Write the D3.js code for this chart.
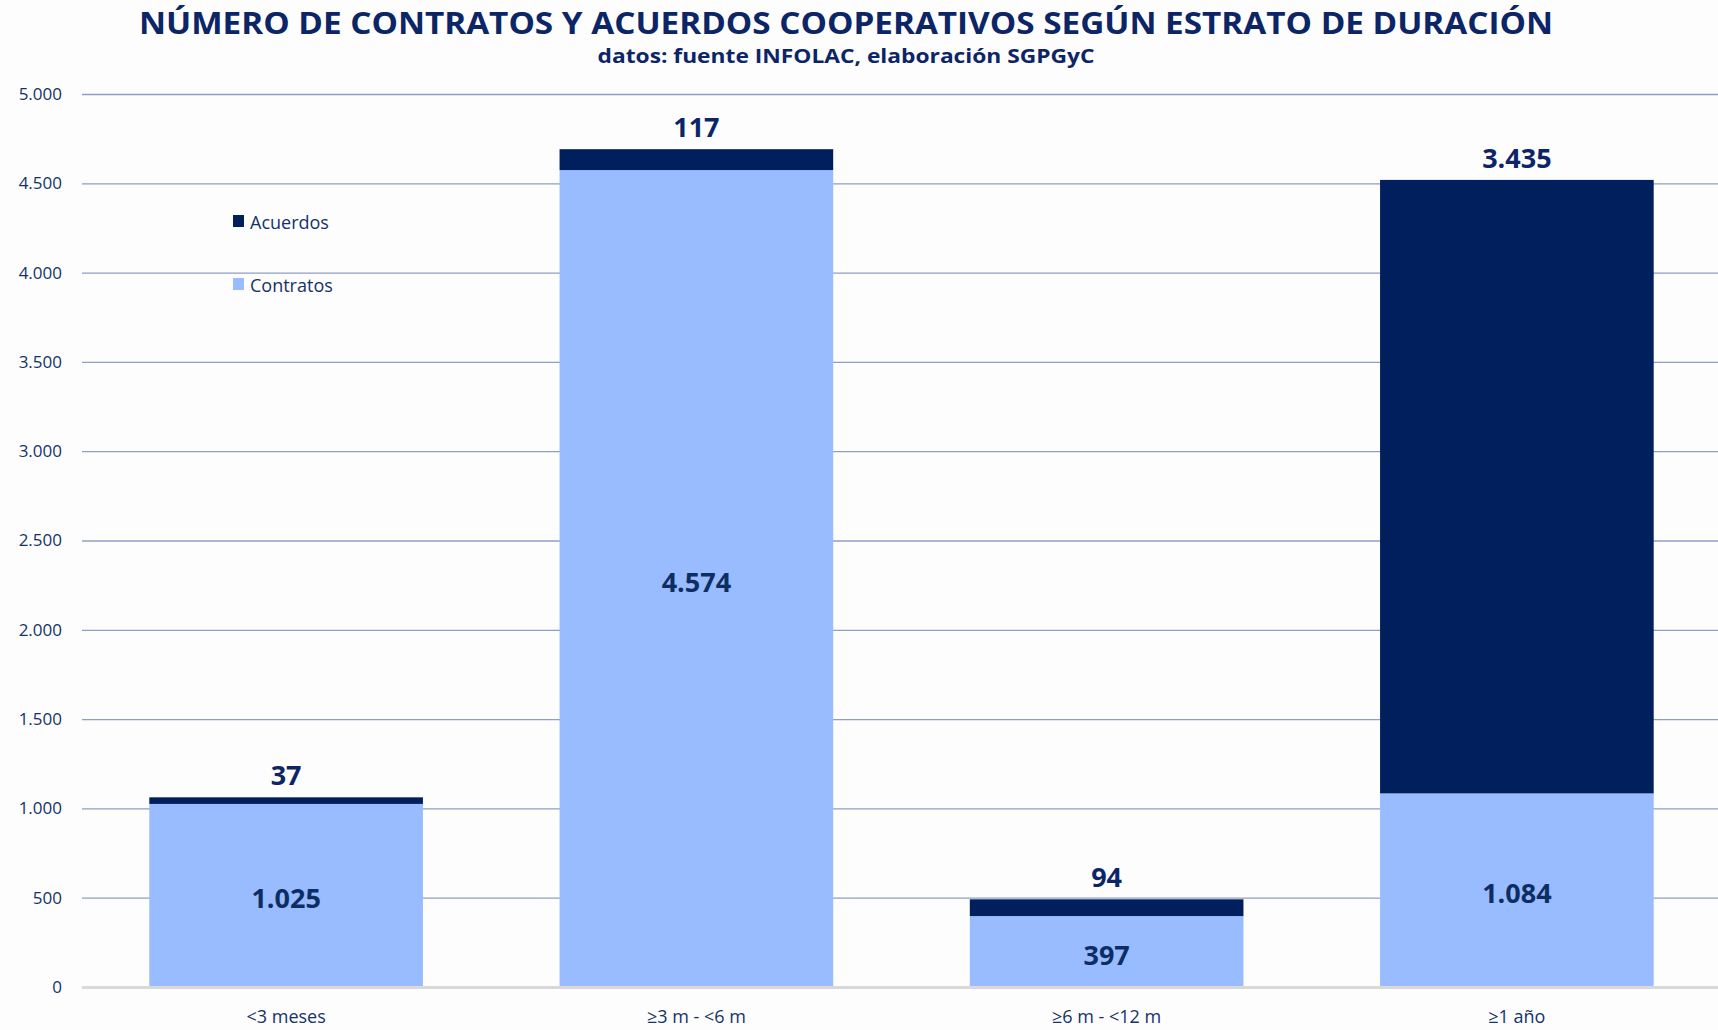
<!DOCTYPE html>
<html>
<head>
<meta charset="utf-8">
<script src="https://cdn.jsdelivr.net/npm/d3@7"></script>
<style>
  html, body { margin: 0; padding: 0; background: #fdfdfd; }
  svg { display: block; font-family: "Open Sans", "Noto Sans", sans-serif; }
</style>
</head>
<body>
<svg id="chart"></svg>
<script>
(() => {
  const width = 1718, height = 1030;

  // datos
  const categories = ["<3 meses", "≥3 m - <6 m", "≥6 m - <12 m", "≥1 año"];
  const contratos = [1025, 4574, 397, 1084];
  const acuerdos = [37, 117, 94, 3435];
  const yTicks = [0, 500, 1000, 1500, 2000, 2500, 3000, 3500, 4000, 4500, 5000];
  const seriesNames = ["Acuerdos", "Contratos"];

  const darkBlue = "#001f5c", lightBlue = "#99bbff";
  const textColor = "#14326a";

  const fmt = v => d3.format(",")(v).replace(/,/g, ".");

  const svg = d3.select("#chart").attr("width", width).attr("height", height);

  svg.append("rect").attr("width", width).attr("height", height).attr("fill", "#fdfdfd");

  const x = d3.scaleBand()
    .domain(categories)
    .range([81, 1722])
    .paddingInner(0.333)
    .paddingOuter(0.1665);

  const y = d3.scaleLinear().domain([0, 5000]).range([987, 94]);

  // títulos
  svg.append("text")
    .attr("x", 846).attr("y", 34)
    .attr("text-anchor", "middle")
    .attr("font-size", 30).attr("font-weight", 700)
    .attr("fill", "#0c2566")
    .attr("textLength", 1414).attr("lengthAdjust", "spacingAndGlyphs")
    .text("NÚMERO DE CONTRATOS Y ACUERDOS COOPERATIVOS SEGÚN ESTRATO DE DURACIÓN");

  svg.append("text")
    .attr("x", 846).attr("y", 63)
    .attr("text-anchor", "middle")
    .attr("font-size", 19).attr("font-weight", 700)
    .attr("fill", "#0c2566")
    .attr("textLength", 497).attr("lengthAdjust", "spacingAndGlyphs")
    .text("datos: fuente INFOLAC, elaboración SGPGyC");

  // rejilla y eje Y
  const yAxis = svg.append("g")
    .attr("transform", "translate(82,0)")
    .call(d3.axisLeft(y).tickValues(yTicks).tickSize(-(width - 82)).tickFormat(fmt).tickPadding(20));
  yAxis.select(".domain").remove();
  yAxis.selectAll(".tick line")
    .attr("stroke", d => d === 0 ? "#d9d9d9" : "#8e9fc6")
    .attr("stroke-width", d => d === 0 ? 3 : 1.3);
  yAxis.selectAll(".tick text")
    .attr("fill", textColor)
    .attr("font-size", 17)
    .attr("font-family", "'Open Sans', sans-serif");

  // barras apiladas
  const bars = svg.append("g");
  categories.forEach((c, i) => {
    const bx = x(c), bw = x.bandwidth();
    bars.append("rect")
      .attr("x", bx).attr("width", bw)
      .attr("y", y(contratos[i]))
      .attr("height", y(0) - y(contratos[i]) - 1)
      .attr("fill", lightBlue);
    bars.append("rect")
      .attr("x", bx).attr("width", bw)
      .attr("y", y(contratos[i] + acuerdos[i]))
      .attr("height", y(contratos[i]) - y(contratos[i] + acuerdos[i]))
      .attr("fill", darkBlue);

    // etiqueta contratos (centro del segmento)
    bars.append("text")
      .attr("x", bx + bw / 2)
      .attr("y", (y(0) + y(contratos[i])) / 2)
      .attr("dy", "0.48em")
      .attr("text-anchor", "middle")
      .attr("font-size", 27).attr("font-weight", 700)
      .attr("fill", "#0d2e63")
      .text(fmt(contratos[i]));

    // etiqueta acuerdos (encima de la barra)
    bars.append("text")
      .attr("x", bx + bw / 2)
      .attr("y", y(contratos[i] + acuerdos[i]) - 12)
      .attr("text-anchor", "middle")
      .attr("font-size", 27).attr("font-weight", 700)
      .attr("fill", "#0c2566")
      .text(fmt(acuerdos[i]));
  });

  // eje X
  svg.append("g").selectAll("text")
    .data(categories)
    .join("text")
    .attr("x", d => x(d) + x.bandwidth() / 2)
    .attr("y", 1023)
    .attr("text-anchor", "middle")
    .attr("font-size", 18)
    .attr("fill", textColor)
    .text(d => d);

  // leyenda
  const legend = svg.append("g");
  seriesNames.forEach((s, i) => {
    const ly = 215 + i * 63;
    legend.append("rect")
      .attr("x", 233).attr("y", ly)
      .attr("width", 11).attr("height", 12)
      .attr("fill", s === "Acuerdos" ? darkBlue : lightBlue);
    legend.append("text")
      .attr("x", 250).attr("y", ly + 14)
      .attr("font-size", 18)
      .attr("fill", textColor)
      .text(s);
  });
})();
</script>
</body>
</html>
